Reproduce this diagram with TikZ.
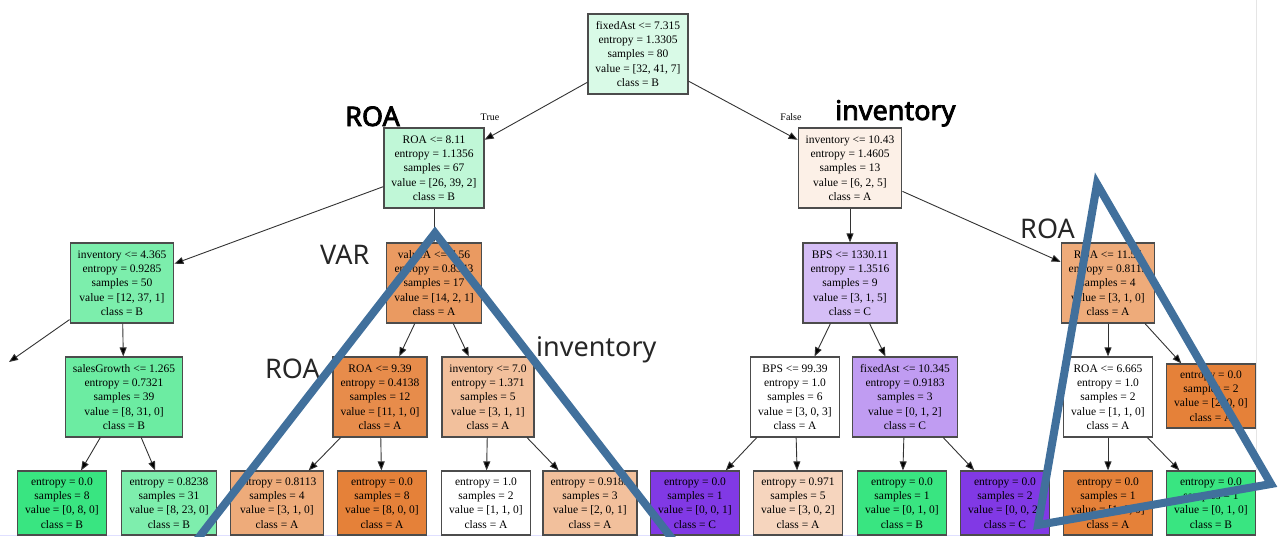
\documentclass[tikz,border=0pt]{standalone}
\usepackage{fontspec}
\setmainfont{Liberation Serif}
\newfontfamily\notefont{Noto Sans}
\newfontfamily\noteboldfont[FakeBold=3]{Noto Sans}
\usepackage{xcolor}
\usepackage{tikz}
\usetikzlibrary{arrows.meta}
\definecolor{clsA}{HTML}{E58139}
\definecolor{clsB}{HTML}{39E581}
\definecolor{clsC}{HTML}{8139E5}
\definecolor{markblue}{RGB}{65,112,156}
\tikzset{main node/.style={rectangle,draw=black!70,line width=1.2pt,align=center,inner xsep=7.5pt,minimum height=80pt,font=\fontsize{11.5}{14.3}\selectfont},
leaf node/.style={main node,minimum height=64pt},
tree edge/.style={draw=black!80,line width=0.9pt,-{Triangle[length=9pt,width=7pt]}},
note/.style={anchor=base west,inner sep=0pt,text=black!85,font=\notefont\fontsize{27}{27}\selectfont},
bold note/.style={note,text=black,font=\noteboldfont\fontsize{27}{27}\selectfont},
split label/.style={inner sep=0pt,font=\fontsize{10}{12}\selectfont},
mark line/.style={draw=markblue,line width=8pt,line join=miter},}

\begin{document}
\begin{tikzpicture}[x=1pt,y=-1pt]
	\useasboundingbox (0,0) rectangle (1280,536);
	\draw[gray!20,line width=1pt] (1256,0) -- (1256,470);
	\draw[blue!12,line width=1pt] (0,535) -- (1040,535);

	\node[main node,fill=clsB!19] (1) at (638,54) {fixedAst <= 7.315\\entropy = 1.3305\\samples = 80\\value = [32, 41, 7]\\class = B};
	\node[main node,fill=clsB!32] (2) at (434,168) {ROA <= 8.11\\entropy = 1.1356\\samples = 67\\value = [26, 39, 2]\\class = B};
	\node[main node,fill=clsA!12] (3) at (850,168) {inventory <= 10.43\\entropy = 1.4605\\samples = 13\\value = [6, 2, 5]\\class = A};
	\node[main node,fill=clsB!66] (4) at (122,283) {inventory <= 4.365\\entropy = 0.9285\\samples = 50\\value = [12, 37, 1]\\class = B};
	\node[main node,fill=clsA!80] (5) at (434,283) {valueA <= 7.56\\entropy = 0.8343\\samples = 17\\value = [14, 2, 1]\\class = A};
	\node[main node,fill=clsC!33] (6) at (850,283) {BPS <= 1330.11\\entropy = 1.3516\\samples = 9\\value = [3, 1, 5]\\class = C};
	\node[main node,fill=clsA!67] (7) at (1108,283) {ROA <= 11.55\\entropy = 0.8113\\samples = 4\\value = [3, 1, 0]\\class = A};
	\node[main node,fill=clsB!74] (8) at (124,397) {salesGrowth <= 1.265\\entropy = 0.7321\\samples = 39\\value = [8, 31, 0]\\class = B};
	\node[main node,fill=clsA!91] (9) at (380,397) {ROA <= 9.39\\entropy = 0.4138\\samples = 12\\value = [11, 1, 0]\\class = A};
	\node[main node,fill=clsA!50] (10) at (488,397) {inventory <= 7.0\\entropy = 1.371\\samples = 5\\value = [3, 1, 1]\\class = A};
	\node[main node,fill=white] (11) at (795,397) {BPS <= 99.39\\entropy = 1.0\\samples = 6\\value = [3, 0, 3]\\class = A};
	\node[main node,fill=clsC!50] (12) at (905,397) {fixedAst <= 10.345\\entropy = 0.9183\\samples = 3\\value = [0, 1, 2]\\class = C};
	\node[main node,fill=white] (13) at (1108,397) {ROA <= 6.665\\entropy = 1.0\\samples = 2\\value = [1, 1, 0]\\class = A};
	\node[leaf node,fill=clsA] (14) at (1211,396) {entropy = 0.0\\samples = 2\\value = [2, 0, 0]\\class = A};
	\node[leaf node,fill=clsB] (15) at (62,503) {entropy = 0.0\\samples = 8\\value = [0, 8, 0]\\class = B};
	\node[leaf node,fill=clsB!65] (16) at (169,503) {entropy = 0.8238\\samples = 31\\value = [8, 23, 0]\\class = B};
	\node[leaf node,fill=clsA!67] (17) at (277,503) {entropy = 0.8113\\samples = 4\\value = [3, 1, 0]\\class = A};
	\node[leaf node,fill=clsA] (18) at (382,503) {entropy = 0.0\\samples = 8\\value = [8, 0, 0]\\class = A};
	\node[leaf node,fill=white] (19) at (486,503) {entropy = 1.0\\samples = 2\\value = [1, 1, 0]\\class = A};
	\node[leaf node,fill=clsA!50] (20) at (590,503) {entropy = 0.9183\\samples = 3\\value = [2, 0, 1]\\class = A};
	\node[leaf node,fill=clsC] (21) at (695,503) {entropy = 0.0\\samples = 1\\value = [0, 0, 1]\\class = C};
	\node[leaf node,fill=clsA!33] (22) at (798,503) {entropy = 0.971\\samples = 5\\value = [3, 0, 2]\\class = A};
	\node[leaf node,fill=clsB] (23) at (902,503) {entropy = 0.0\\samples = 1\\value = [0, 1, 0]\\class = B};
	\node[leaf node,fill=clsC] (24) at (1005,503) {entropy = 0.0\\samples = 2\\value = [0, 0, 2]\\class = C};
	\node[leaf node,fill=clsA] (25) at (1108,503) {entropy = 0.0\\samples = 1\\value = [1, 0, 0]\\class = A};
	\node[leaf node,fill=clsB] (26) at (1211,503) {entropy = 0.0\\samples = 1\\value = [0, 1, 0]\\class = B};
	\coordinate (27) at (9,362);

	\path[tree edge]
	(1) edge (2)
	(1) edge (3)
	(2) edge (4)
	(2) edge (5)
	(3) edge (6)
	(3) edge (7)
	(4) edge (27)
	(4) edge (8)
	(5) edge (9)
	(5) edge (10)
	(6) edge (11)
	(6) edge (12)
	(7) edge (13)
	(7) edge (14)
	(8) edge (15)
	(8) edge (16)
	(9) edge (17)
	(9) edge (18)
	(10) edge (19)
	(10) edge (20)
	(11) edge (21)
	(11) edge (22)
	(12) edge (23)
	(12) edge (24)
	(13) edge (25)
	(13) edge (26)
	;

	\node[split label] (t) at (490,117) {True};
	\node[split label] (f) at (791,117) {False};

	\node[bold note] (n1) at (345,126) {ROA};
	\node[bold note] (n2) at (835,120) {inventory};
	\node[note] (n3) at (320,264) {VAR};
	\node[note] (n4) at (265,378) {ROA};
	\node[note] (n5) at (536,356) {inventory};
	\node[note] (n6) at (1020,238) {ROA};

	\draw[mark line] (193,545) -- (435,233) -- (677,545);
	\draw[mark line] (1097,184) -- (1038,525) -- (1271,484) -- cycle;
\end{tikzpicture}
\end{document}
